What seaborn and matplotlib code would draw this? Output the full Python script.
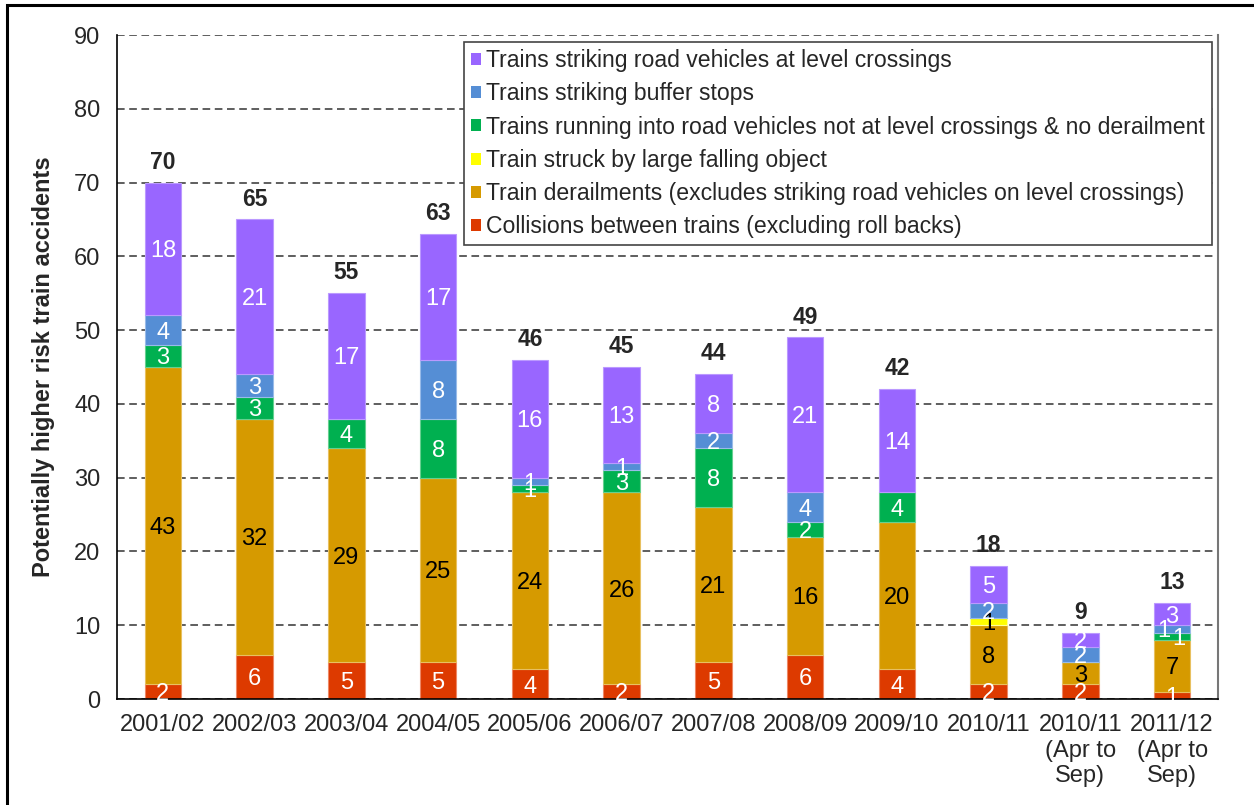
import numpy as np
import pandas as pd
import matplotlib
matplotlib.use("Agg")
import matplotlib.pyplot as plt
from matplotlib.patches import Patch, Rectangle
from matplotlib.ticker import MultipleLocator, FixedLocator
import seaborn as sns

# Financial years shown on the x axis
years = [
    "2001/02", "2002/03", "2003/04", "2004/05", "2005/06", "2006/07",
    "2007/08", "2008/09", "2009/10", "2010/11",
    "2010/11\n(Apr to\nSep)", "2011/12\n(Apr to\nSep)",
]

# Accident counts per category (stacked bottom to top)
collisions = [2, 6, 5, 5, 4, 2, 5, 6, 4, 2, 2, 1]
derailments = [43, 32, 29, 25, 24, 26, 21, 16, 20, 8, 3, 7]
falling_object = [0, 0, 0, 0, 0, 0, 0, 0, 0, 1, 0, 0]
not_at_crossings = [3, 3, 4, 8, 1, 3, 8, 2, 4, 0, 0, 1]
buffer_stops = [4, 3, 0, 8, 1, 1, 2, 4, 0, 2, 2, 1]
level_crossings = [18, 21, 17, 17, 16, 13, 8, 21, 14, 5, 2, 3]

labels = {
    "collisions": "Collisions between trains (excluding roll backs)",
    "derailments": "Train derailments (excludes striking road vehicles on level crossings)",
    "falling": "Train struck by large falling object",
    "not_lc": "Trains running into road vehicles not at level crossings & no derailment",
    "buffer": "Trains striking buffer stops",
    "lc": "Trains striking road vehicles at level crossings",
}

# (values, legend key, fill, edge, label colour)
layers = [
    (collisions, "collisions", "#DD3A00", "#EE8866", "white"),
    (derailments, "derailments", "#D69A00", "#E8C060", "black"),
    (falling_object, "falling", "#FFFF00", "#FFFF99", "black"),
    (not_at_crossings, "not_lc", "#00B050", "#66D090", "white"),
    (buffer_stops, "buffer", "#558ED5", "#99BBE8", "white"),
    (level_crossings, "lc", "#9966FF", "#BB99FF", "white"),
]

# Sideways nudges (points) for value labels on thin segments that would collide
label_nudge = {("buffer", 11): -6, ("not_lc", 11): 5}

sns.set_style("white")
plt.rcParams["font.family"] = ["Liberation Sans", "DejaVu Sans"]

W, H = 1254, 805
fig = plt.figure(figsize=(W / 100, H / 100), dpi=100)
ax = fig.add_axes([117 / W, 1 - 699 / H, (1218 - 117) / W, (699 - 35) / H])

bottom = np.zeros(len(years))
for vals, key, fill, edge, txt in layers:
    vals = np.asarray(vals, dtype=float)
    df = pd.DataFrame({"year": years, "count": vals})
    sns.barplot(
        data=df, x="year", y="count", order=years, color=fill,
        saturation=1, width=0.4, errorbar=None, ax=ax,
        bottom=bottom.copy(), edgecolor=edge, linewidth=0.8, zorder=2,
    )
    for i, v in enumerate(vals):
        if v > 0:
            ax.annotate(f"{int(v)}", (i, bottom[i] + v / 2),
                        xytext=(label_nudge.get((key, i), 0), 0),
                        textcoords="offset points", ha="center",
                        va="center_baseline", color=txt, fontsize=17, zorder=4)
    bottom += vals

# Bold totals above each stack
for i, t in enumerate(bottom):
    ax.annotate(f"{int(t)}", (i, t), xytext=(0, 10), textcoords="offset points",
                ha="center", va="baseline", fontsize=16.5, fontweight="bold")

ax.set_xlim(-0.5, len(years) - 0.5)
ax.set_ylim(0, 90)
ax.yaxis.set_major_locator(MultipleLocator(10))
ax.set_axisbelow(True)
ax.grid(axis="y", linestyle=(0, (5, 3)), color="#333333", linewidth=1.1)
ax.grid(axis="x", visible=False)

for side in ["left", "bottom"]:
    ax.spines[side].set_color("black")
    ax.spines[side].set_linewidth(1.2)
ax.spines["top"].set_visible(False)
ax.spines["right"].set_color("#777777")
ax.spines["right"].set_linewidth(1.5)

ax.tick_params(axis="y", direction="out", length=5, width=1, color="black",
               labelsize=17, pad=7)
ax.tick_params(axis="x", which="major", length=0, labelsize=17, pad=11)
ax.xaxis.set_minor_locator(FixedLocator(np.arange(-0.5, len(years), 1.0)))
ax.tick_params(axis="x", which="minor", direction="out", length=5, width=1,
               color="black")
ax.set_xlabel("")
ax.set_ylabel("Potentially higher risk train accidents", fontsize=17,
              fontweight="bold")
ax.yaxis.set_label_coords(-0.056, 0.5)

# Legend, listed top of stack first
handles = [Patch(facecolor=f, edgecolor="none", label=labels[k])
           for _, k, f, _, _ in reversed(layers)]
leg = ax.legend(handles=handles, loc="upper right",
                bbox_to_anchor=(0.995, 0.9895), borderaxespad=0,
                fontsize=16.6, frameon=True, fancybox=False,
                handlelength=0.42, handleheight=0.42, handletextpad=0.25,
                labelspacing=0.44, borderpad=0.32)
leg.get_frame().set_edgecolor("#444444")
leg.get_frame().set_linewidth(1.2)
leg.get_frame().set_alpha(1)

# Outer frame of the figure
fig.patches.append(Rectangle((7 / W, -0.5), 2.0, 1.5 - 5 / H, transform=fig.transFigure,
                             fill=False, edgecolor="black", linewidth=2.2))

fig.savefig("out.png", dpi=100)
